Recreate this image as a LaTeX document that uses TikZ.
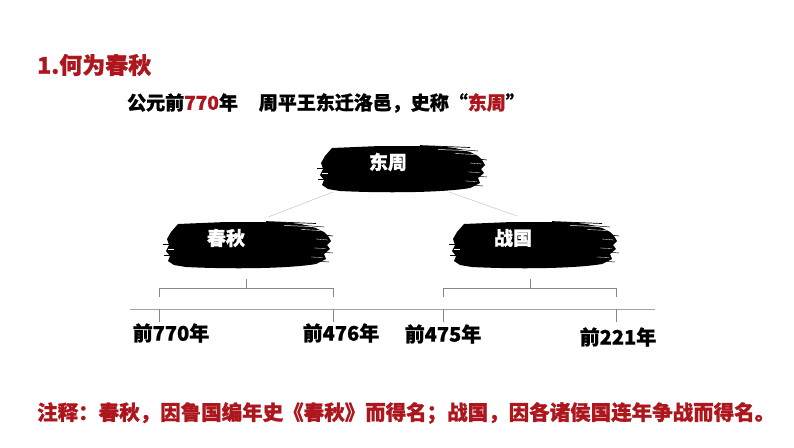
\documentclass[tikz,border=0pt]{standalone}
\usepackage{fontspec}
\setmainfont{Noto Sans CJK SC}[BoldFeatures={FakeBold=1}]
\usetikzlibrary{calc}
\definecolor{darkred}{RGB}{172,22,28}
\definecolor{linkgray}{RGB}{205,205,205}
\definecolor{axisgray}{RGB}{165,165,165}
\definecolor{brkgray}{RGB}{135,135,135}
\newcommand{\inkbrush}[1]{%
\begin{scope}[shift={#1}]
\fill[black] (12,2) -- (60,0) -- (117,0) -- (135,2) -- (150,6) -- (158,10) -- (162,14) -- (165,19) -- (161,23) -- (164,27) -- (158,32) -- (160,37) -- (150,42)
  .. controls (120,47) and (60,47) .. (20,45) -- (8,43) -- (2,39) -- (4,34) -- (0,29) -- (3,23) -- (1,17) -- (5,10) -- cycle;
\draw[black,line width=0.7pt] (100,-0.5) -- (150,1.5);
\draw[black,line width=0.5pt] (120,2) -- (158,5);
\draw[black,line width=0.6pt] (150,12) -- (167,14);
\draw[black,line width=0.5pt] (155,30) -- (167,31);
\draw[black,line width=0.5pt] (150,39) -- (163,40);
\draw[black,line width=0.5pt] (-3,22) -- (6,22);
\draw[black,line width=0.5pt] (-2,33) -- (6,33);
\draw[white,line width=0.5pt] (118,3.5) -- (146,4.5);
\draw[white,line width=0.4pt] (135,7.5) -- (155,8.5);
\draw[white,line width=0.3pt] (150,17) -- (162,18);
\draw[white,line width=0.3pt] (148,26) -- (160,26.5);
\draw[white,line width=0.3pt] (145,35) -- (157,35.5);
\draw[white,line width=0.3pt] (2,27) -- (8,27);
\end{scope}}
\tikzset{
  titletext/.style={anchor=west,inner sep=0pt,font=\fontsize{23}{25}\selectfont\bfseries,text=darkred},
  subtext/.style={anchor=west,inner sep=0pt,font=\fontsize{19}{21}\selectfont\bfseries,text=black},
  inklabel/.style={inner sep=0pt,font=\fontsize{19}{21}\selectfont\bfseries,text=white},
  yearlabel/.style={inner sep=0pt,font=\fontsize{20}{22}\selectfont\bfseries,text=black},
  notetext/.style={anchor=west,inner sep=0pt,font=\fontsize{20.5}{22}\selectfont\bfseries,text=darkred},
  link/.style={draw=linkgray,line width=0.6pt},
  axis/.style={draw=axisgray,line width=0.9pt},
  brk/.style={draw=brkgray,line width=0.6pt},
}
\begin{document}
\begin{tikzpicture}[x=1pt,y=-1pt]
\useasboundingbox[fill=white] (0,0) rectangle (794,447);
\node[titletext] (title) at (37,65) {1.何为春秋};
\node[subtext] (sub) at (127,103) {公元前\textcolor{darkred}{770}年\hspace{1.1em}周平王东迁洛邑，史称“\textcolor{darkred}{东周}”};
% brushes
\inkbrush{(320,146)}
\inkbrush{(166,222)}
\inkbrush{(452,222)}
\node[inklabel] (dz) at (388,162) {东周};
\node[inklabel] (cq) at (226,238) {春秋};
\node[inklabel] (zg) at (513,238) {战国};
% connectors
\coordinate (dzl) at (333,192);
\coordinate (dzr) at (449,192);
\coordinate (cqt) at (268,217);
\coordinate (zgt) at (517,216);
\draw[link] (dzl) -- (cqt);
\draw[link] (dzr) -- (zgt);
% timeline
\coordinate (ax1) at (130,309);
\coordinate (ax2) at (655,309);
\draw[axis] (ax1) -- (ax2);
\coordinate (t1) at (159.5,309);
\coordinate (t2) at (333,309);
\coordinate (t3) at (443,309);
\coordinate (t4) at (616,309);
\foreach \t in {t1,t2,t3,t4} \draw[brk] (\t) -- ++(0,13);
\draw[brk] ($(t1)+(0,-12)$) -- ($(t1)+(0,-21)$) -- ($(t2)+(0,-21)$) -- ($(t2)+(0,-12)$);
\draw[brk] (246,288) -- (246,279);
\draw[brk] ($(t3)+(0,-12)$) -- ($(t3)+(0,-21)$) -- ($(t4)+(0,-21)$) -- ($(t4)+(0,-12)$);
\draw[brk] (530,288) -- (530,279);
\node[yearlabel] (y1) at (171,333) {前770年};
\node[yearlabel] (y2) at (341,333) {前476年};
\node[yearlabel] (y3) at (443,334) {前475年};
\node[yearlabel] (y4) at (618,337) {前221年};
\node[notetext] (note) at (37,413) {注释：春秋，因鲁国编年史《春秋》而得名；战国，因各诸侯国连年争战而得名。};
\end{tikzpicture}
\end{document}
